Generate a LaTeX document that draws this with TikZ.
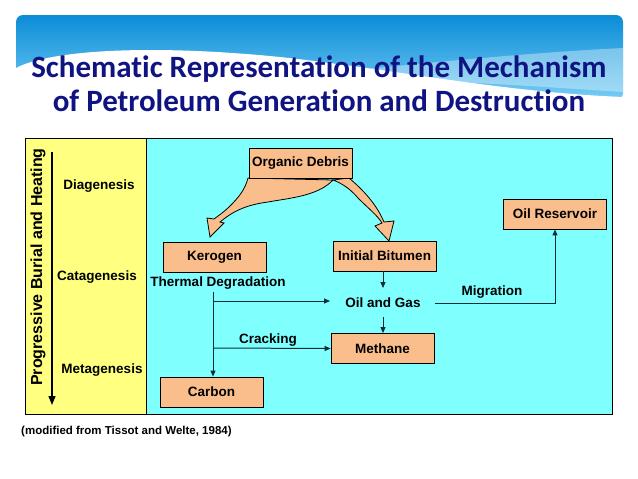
\documentclass[tikz,border=0pt]{standalone}
\usepackage{fontspec}
\setmainfont{Liberation Sans}
\newfontfamily\titlefont[Ligatures={NoCommon,NoContextual}]{Carlito}
\usetikzlibrary{arrows.meta}
\definecolor{orangebox}{RGB}{250,190,140}
\definecolor{cyanbg}{RGB}{128,255,255}
\definecolor{yellowbg}{RGB}{255,255,128}
\definecolor{linecol}{RGB}{10,45,55}
\definecolor{navy}{RGB}{16,20,130}
\definecolor{bannertop}{RGB}{10,140,215}
\definecolor{bannerbot}{RGB}{120,205,245}
\tikzset{
  box/.style={draw=black, line width=0.8pt, fill=orangebox, minimum width=103pt, minimum height=30pt, inner sep=0pt, font=\bfseries\fontsize{13.5}{14}\selectfont},
  lbl/.style={font=\bfseries\fontsize{13.5}{14}\selectfont, inner sep=0pt},
  conn/.style={draw=linecol, line width=1pt, -{Triangle[length=6pt,width=5pt]}},
  fat/.style={draw=black, line width=0.8pt, fill=orangebox},
}
\begin{document}
\begin{tikzpicture}[x=1pt,y=-1pt]
\useasboundingbox (0,0) rectangle (638,479);
% banner
\shade[top color=bannertop, bottom color=bannerbot, rounded corners=7pt] (16,15) rectangle (623,100);
\fill[white, opacity=0.35] (300,76) .. controls (430,62) and (540,52) .. (623,48) -- (623,92) .. controls (560,88) and (450,80) .. (300,76) -- cycle;
\fill[white] (16,68) .. controls (50,50) and (150,44) .. (280,57) .. controls (400,70) and (500,92) .. (623,97) -- (623,102) -- (16,102) -- cycle;
\node[font=\titlefont\bfseries\fontsize{31}{34}\selectfont, text=navy, align=center, inner sep=0pt] (title) at (319,84) {Schematic Representation of the Mechanism\\of Petroleum Generation and Destruction};
% panels
\fill[yellowbg] (25,138) rectangle (146,414);
\fill[cyanbg] (146,138) rectangle (612,414);
\draw[black, line width=0.8pt] (25,138) rectangle (612,414);
\draw[black, line width=0.8pt] (146,138) -- (146,414);
% left axis
\coordinate (axtop) at (52,152);
\coordinate (axbot) at (52,405);
\draw[black, line width=1.4pt, -{Triangle[length=9pt,width=7pt]}] (axtop) -- (axbot);
\node[rotate=90, font=\bfseries\fontsize{16}{16}\selectfont, inner sep=0pt] (axlbl) at (38,267) {Progressive Burial and Heating};
\node[lbl] (dia) at (99,186) {Diagenesis};
\node[lbl] (cata) at (97,277) {Catagenesis};
\node[lbl] (meta) at (102,370) {Metagenesis};
% fat arrows
\path[fat] (248,178) .. controls (245,190) and (238,198) .. (230,206) .. controls (224,212) and (218,216) .. (214,219) -- (207,218) -- (210,237) -- (224,223) -- (220,222) .. controls (232,212) and (245,205) .. (268,202) .. controls (290,198) and (318,196) .. (333,180) -- cycle;
\path[fat] (333,180) .. controls (338,182) and (348,186) .. (358,198) .. controls (368,208) and (378,216) .. (382,223) -- (375,226) -- (389,241) -- (394,221) -- (384,222) .. controls (378,208) and (368,194) .. (349,178) -- cycle;
% boxes
\node[box] (debris) at (300.5,163) {Organic Debris};
\node[box] (kerogen) at (214.5,257) {Kerogen};
\node[box] (bitumen) at (384.5,256) {Initial Bitumen};
\node[box] (reservoir) at (555,214) {Oil Reservoir};
\node[box] (methane) at (382.5,348.5) {Methane};
\node[box] (carbon) at (211.5,392) {Carbon};
% labels
\node[lbl] (thermal) at (218,283) {Thermal Degradation};
\node[lbl] (oilgas) at (383,303) {Oil and Gas};
\node[lbl] (cracking) at (268,340) {Cracking};
\node[lbl] (migration) at (492,292) {Migration};
% connectors
\coordinate (td) at (213,292);
\coordinate (j1) at (213,301);
\coordinate (j2) at (213,348);
\coordinate (og1) at (330,301);
\coordinate (bitend) at (383,288);
\coordinate (ogtop) at (383,317);
\coordinate (mig0) at (435,303);
\coordinate (migc) at (555,303);
\draw[conn] (td) -- (td |- carbon.north);
\draw[conn] (j1) -- (og1);
\draw[conn] (j2) -- (methane.west);
\draw[conn] (bitumen.south -| bitend) -- (bitend);
\draw[conn] (ogtop) -- (ogtop |- methane.north);
\draw[conn] (mig0) -- (migc) -- (reservoir.south);
% footnote
\node[anchor=west, font=\bfseries\fontsize{11.5}{12}\selectfont, inner sep=0pt] (foot) at (21,432) {(modified from Tissot and Welte, 1984)};
\end{tikzpicture}
\end{document}
